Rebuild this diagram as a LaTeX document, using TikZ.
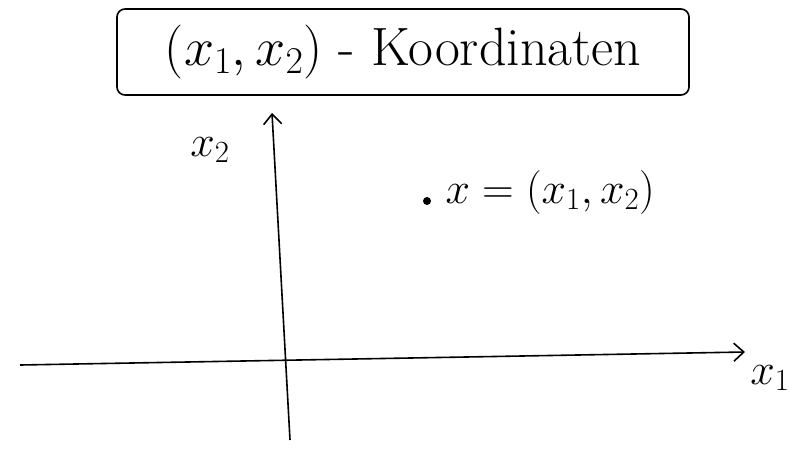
\RequirePackage{fix-cm}
\documentclass[tikz,border=0pt]{standalone}
\usetikzlibrary{arrows.meta}

\tikzset{
  axis/.style={line width=1.6pt, black, -{Straight Barb[length=10pt,width=18pt,line width=1.6pt]}},
  titlebox/.style={draw, line width=1.6pt, rounded corners=8pt, minimum width=572pt, minimum height=86pt, inner sep=0pt},
  big/.style={font=\fontsize{54}{60}\selectfont},
  mid/.style={font=\fontsize{44}{50}\selectfont}
}

\begin{document}
\begin{tikzpicture}[x=1pt, y=-1pt]
    \useasboundingbox (0,0) rectangle (805,460);

    % Ueberschrift im Rahmen
    \node[titlebox, big] (title) at (403,52) {$(x_1,x_2)$ - Koordinaten};

    % Achsen
    \coordinate (x1start) at (20,365);
    \coordinate (x1end) at (745,352);
    \coordinate (x2start) at (290,440);
    \coordinate (x2end) at (272,113);
    \draw[axis] (x1start) -- (x1end);
    \draw[axis] (x2start) -- (x2end);

    % Achsenbeschriftung
    \node[mid] (x1lab) at (770,378) {$x_1$};
    \node[mid] (x2lab) at (210,150) {$x_2$};

    % Punkt x
    \fill[black] (427,201) circle (4) coordinate (pt);
    \node[mid, anchor=west] (ptlab) at (442,192) {$x=(x_1,x_2)$};
\end{tikzpicture}
\end{document}
